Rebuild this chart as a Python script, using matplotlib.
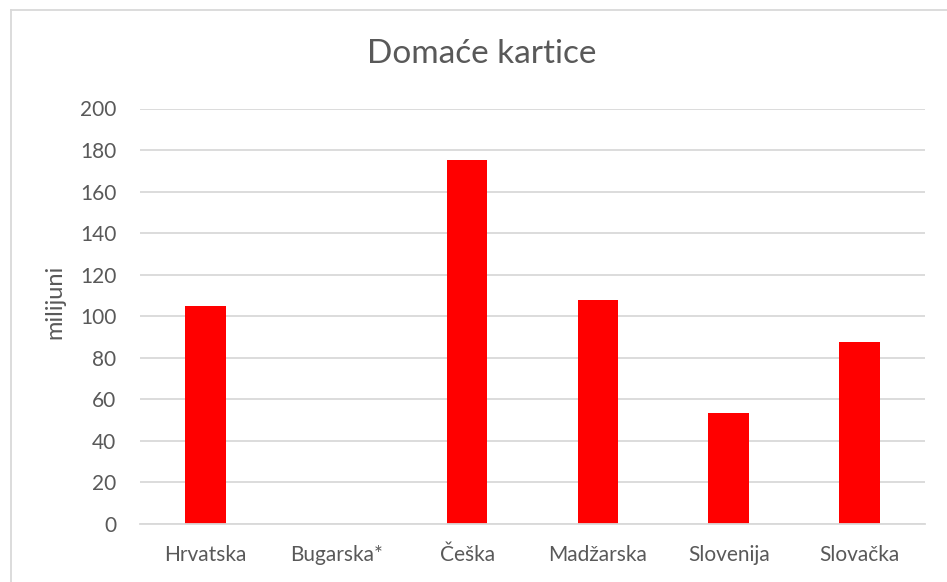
import matplotlib.pyplot as plt
from matplotlib.lines import Line2D
import numpy as np

# data
countries = ['Hrvatska', 'Bugarska*', 'Češka', 'Madžarska', 'Slovenija', 'Slovačka']
values = [104.8, 0, 175.2, 107.7, 53.3, 87.5]
yticks = [0, 20, 40, 60, 80, 100, 120, 140, 160, 180, 200]

plt.rcParams['font.family'] = ['Lato', 'DejaVu Sans']
txtColor = '#595959'
gridColor = '#D9D9D9'

W, H = 947, 582
fig = plt.figure(figsize=(W / 100, H / 100), dpi=100)
ax = fig.add_axes([140 / W, (H - 524) / H, (925 - 140) / W, (524 - 108.5) / H])

x_pos = np.arange(len(countries))
ax.bar(x_pos, values, width=0.31, color='#FF0000', zorder=3)

ax.set_xlim(-0.5, len(countries) - 0.5)
ax.set_ylim(0, 200)
ax.set_yticks(yticks)
ax.set_xticks(x_pos)
ax.set_xticklabels(countries)
ax.tick_params(axis='both', length=0, labelsize=15, labelcolor=txtColor)
ax.tick_params(axis='y', pad=17)
ax.tick_params(axis='x', pad=15)
ax.yaxis.grid(True, color=gridColor, linewidth=1.3, zorder=0)
for side in ['top', 'right', 'left']:
    ax.spines[side].set_visible(False)
ax.spines['bottom'].set_color(gridColor)
ax.spines['bottom'].set_linewidth(1.3)
ax.spines['bottom'].set_zorder(4)

fig.text(55 / W, 1 - 302 / H, 'milijuni', fontsize=17, color=txtColor,
         rotation=90, ha='center', va='center')
fig.text(482 / W, 1 - 54 / H, 'Domaće kartice', fontsize=24, color=txtColor,
         ha='center', va='center')

# chart frame (cropped at right and bottom)
fig.add_artist(Line2D([10.5 / W, 10.5 / W], [0, 1 - 9.5 / H], color=gridColor, linewidth=1.3))
fig.add_artist(Line2D([10.5 / W, 1], [1 - 9.5 / H, 1 - 9.5 / H], color=gridColor, linewidth=1.3))

plt.savefig('out.png', dpi=100)
